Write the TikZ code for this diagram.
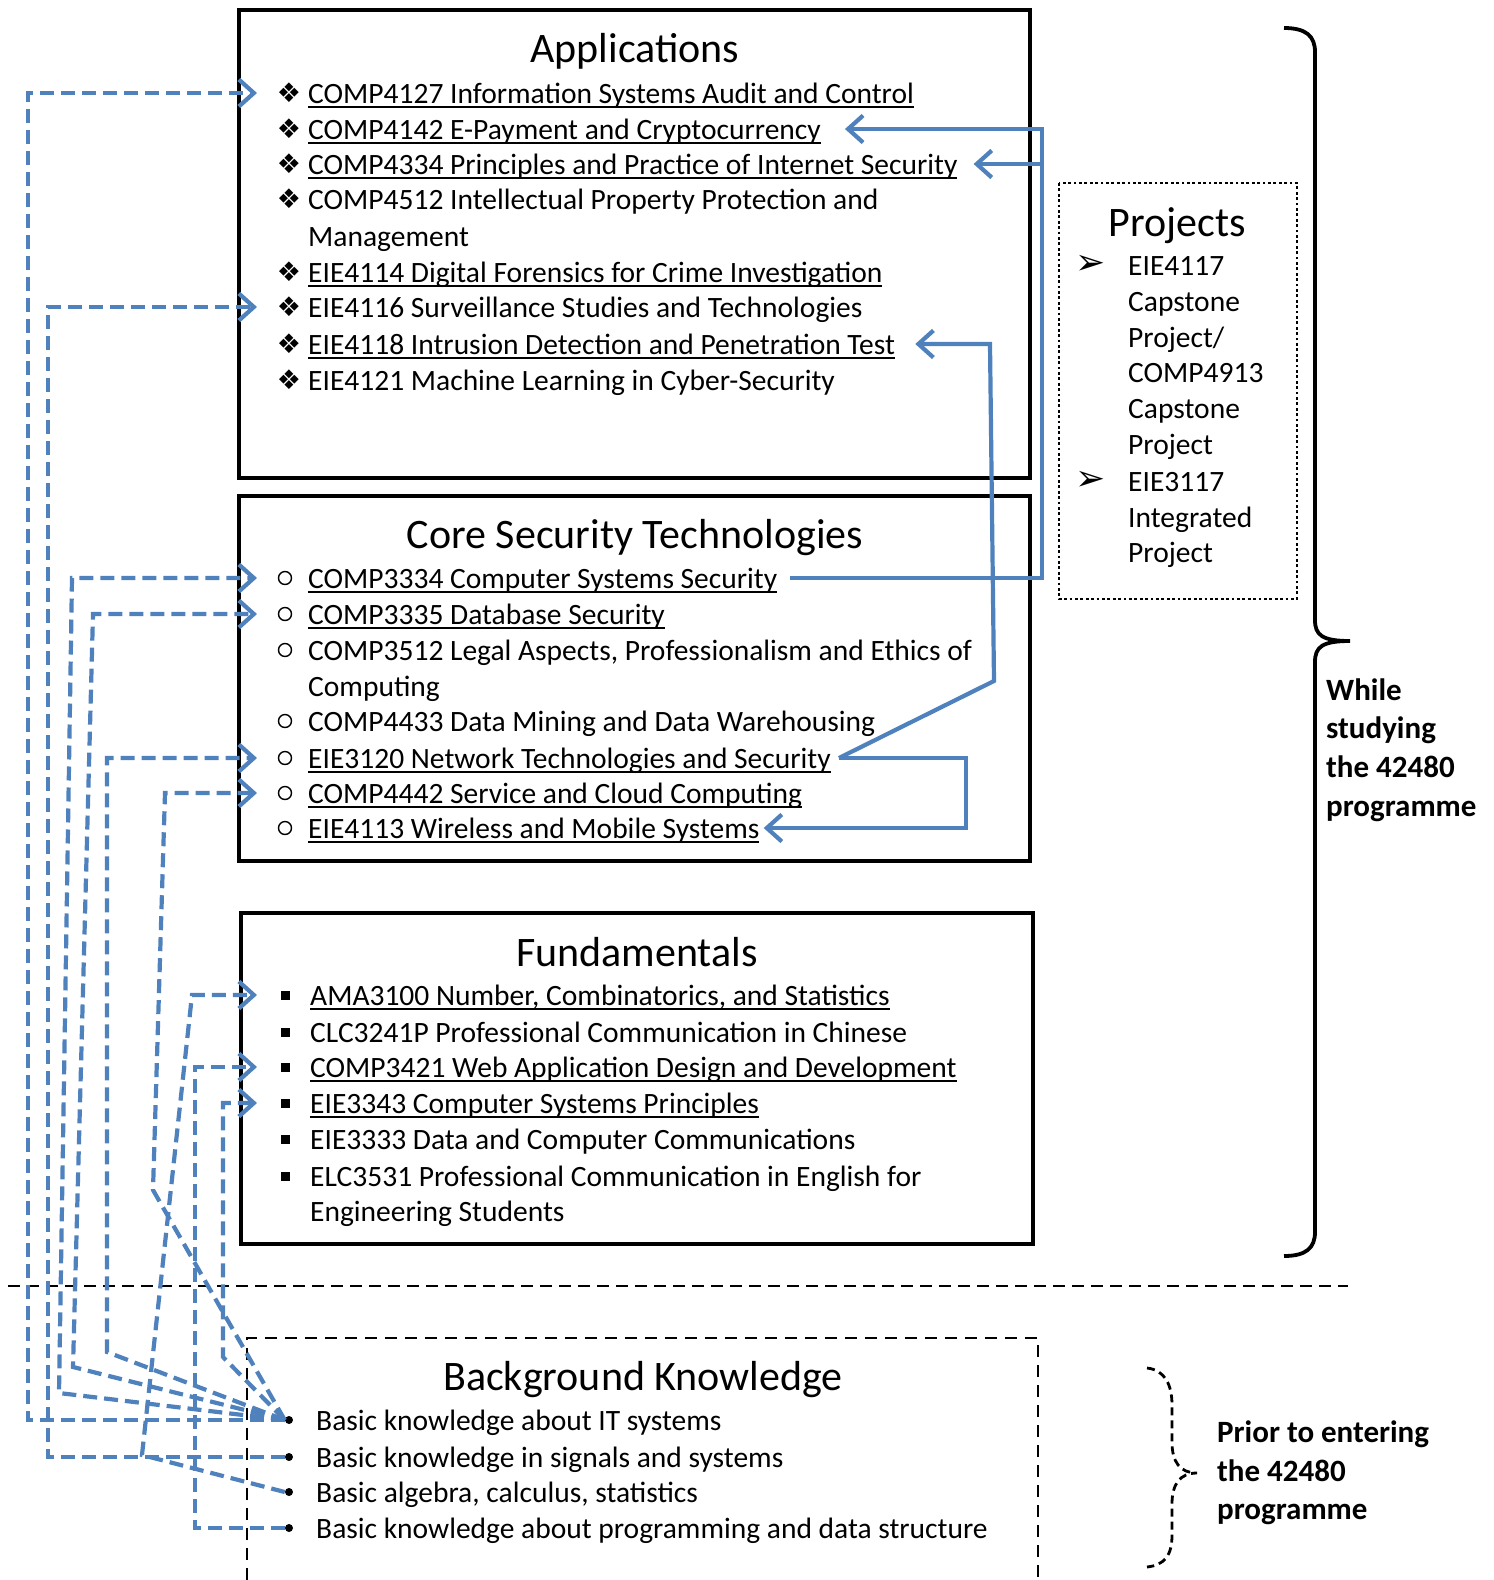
\documentclass[tikz,border=0pt]{standalone}
\usepackage{fontspec}
\setmainfont{Carlito}
\newfontfamily\symfont{DejaVu Sans}
\newcommand{\uln}[1]{\leavevmode\setbox0\hbox{#1}\rlap{\rule[-4.5pt]{\wd0}{1.8pt}}\box0}
\usetikzlibrary{arrows.meta,calc,positioning}
\definecolor{linkBlue}{RGB}{79,129,189}

\begin{document}
\begin{tikzpicture}[x=1pt,y=-1pt,
    panel/.style={draw,line width=3.2pt},
    heading/.style={font=\fontsize{42}{50}\selectfont,text height=39pt,text depth=10pt,inner sep=0pt},
    course/.style={anchor=west,inner sep=0pt,text height=22pt,text depth=2pt,font=\fontsize{29.5}{35.5}\selectfont},
    stack/.style={anchor=west,inner sep=0pt,align=left,font=\fontsize{29.5}{35.7}\selectfont},
    tag/.style={anchor=west,inner sep=0pt,align=left,font=\fontsize{31}{38.6}\selectfont\bfseries},
    clover/.style={font=\symfont\fontsize{27}{27}\selectfont,inner sep=0pt},
    pointer/.style={font=\symfont\fontsize{36}{36}\selectfont,inner sep=0pt},
    ring/.style={circle,draw,line width=1.4pt,minimum size=13pt,inner sep=0pt},
    block/.style={fill,minimum size=9pt,inner sep=0pt},
    kdot/.style={circle,fill,minimum size=8pt,inner sep=0pt},
    prereq/.style={linkBlue,line width=4.2pt,dash pattern=on 14pt off 7pt,-{Straight Barb[length=15pt,width=27pt]}},
    mapsto/.style={linkBlue,line width=4.2pt,-{Straight Barb[length=15pt,width=27pt]}}]
\useasboundingbox (0,0) rectangle (1494,1580);

% Applications
\draw[panel] (239,10) rectangle (1030,478);
\node[heading] (apptitle) at (635,48) {Applications};
\foreach \y in {93,129,164,199,272,307,344,380}
  \node[clover] at (289,\y) {❖};
\node[course] (a1) at (308,93) {\uln{COMP4127 Information Systems Audit and Control}};
\node[course] (a2) at (308,129) {\uln{COMP4142 E-Payment and Cryptocurrency}};
\node[course] (a3) at (308,164) {\uln{COMP4334 Principles and Practice of Internet Security}};
\node[course] (a4) at (308,199) {COMP4512 Intellectual Property Protection and};
\node[course] (a4x) at (308,236) {Management};
\node[course] (a5) at (308,272) {\uln{EIE4114 Digital Forensics for Crime Investigation}};
\node[course] (a6) at (308,307) {EIE4116 Surveillance Studies and Technologies};
\node[course] (a7) at (308,344) {\uln{EIE4118 Intrusion Detection and Penetration Test}};
\node[course] (a8) at (308,380) {EIE4121 Machine Learning in Cyber-Security};

% Core Security Technologies
\draw[panel] (239,496) rectangle (1030,861);
\node[heading] (coretitle) at (635,534) {Core Security Technologies};
\foreach \y in {578,614,650,721,758,793,828}
  \node[ring] at (285,\y) {};
\node[course] (c1) at (308,578) {\uln{COMP3334 Computer Systems Security}};
\node[course] (c2) at (308,614) {\uln{COMP3335 Database Security}};
\node[course] (c3) at (308,650) {COMP3512 Legal Aspects, Professionalism and Ethics of};
\node[course] (c3x) at (308,686) {Computing};
\node[course] (c4) at (308,721) {COMP4433 Data Mining and Data Warehousing};
\node[course] (c5) at (308,758) {\uln{EIE3120 Network Technologies and Security}};
\node[course] (c6) at (308,793) {\uln{COMP4442 Service and Cloud Computing}};
\node[course] (c7) at (308,828) {\uln{EIE4113 Wireless and Mobile Systems}};

% Fundamentals
\draw[panel] (241,913) rectangle (1033,1244);
\node[heading] (fundtitle) at (637,952) {Fundamentals};
\foreach \y in {995,1032,1067,1103,1139,1176}
  \node[block] at (285,\y) {};
\node[course] (f1) at (310,995) {\uln{AMA3100 Number, Combinatorics, and Statistics}};
\node[course] (f2) at (310,1032) {CLC3241P Professional Communication in Chinese};
\node[course] (f3) at (310,1067) {\uln{COMP3421 Web Application Design and Development}};
\node[course] (f4) at (310,1103) {\uln{EIE3343 Computer Systems Principles}};
\node[course] (f5) at (310,1139) {EIE3333 Data and Computer Communications};
\node[course] (f6) at (310,1176) {ELC3531 Professional Communication in English for};
\node[course] (f6x) at (310,1211) {Engineering Students};

% Projects
\draw[line width=2.8pt,dash pattern=on 2.8pt off 2.6pt] (1059,183) rectangle (1297,599);
\node[heading] (projtitle) at (1177,222) {Projects};
\node[pointer] at (1091,265) {➢};
\node[pointer] at (1091,481) {➢};
\node[stack] (p1) at (1128,358) {EIE4117\\Capstone\\Project/\\COMP4913\\Capstone\\Project};
\node[stack] (p2) at (1128,520) {EIE3117\\Integrated\\Project};

% While studying
\draw[line width=3.8pt] (1284,28) .. controls (1306,28) and (1315,36) .. (1315,52)
  -- (1315,620) .. controls (1315,635) and (1322,641) .. (1350,641)
  .. controls (1322,641) and (1315,647) .. (1315,662)
  -- (1315,1232) .. controls (1315,1248) and (1306,1256) .. (1284,1256);
\node[tag] (during) at (1326,750) {While\\studying\\the 42480\\programme};

% divider
\draw[line width=2.8pt,dash pattern=on 12pt off 7pt] (8,1286) -- (1348,1286);

% Background Knowledge
\draw[line width=2.8pt,dash pattern=on 12pt off 8pt] (247,1580) -- (247,1338) -- (1038,1338) -- (1038,1580);
\node[heading] (bgtitle) at (643,1376) {Background Knowledge};
\node[kdot] (k1) at (289,1420) {};
\node[kdot] (k2) at (289,1457) {};
\node[kdot] (k3) at (289,1492) {};
\node[kdot] (k4) at (289,1528) {};
\node[course] (b1) at (316,1420) {Basic knowledge about IT systems};
\node[course] (b2) at (316,1457) {Basic knowledge in signals and systems};
\node[course] (b3) at (316,1492) {Basic algebra, calculus, statistics};
\node[course] (b4) at (316,1528) {Basic knowledge about programming and data structure};

\draw[line width=2.8pt,dash pattern=on 8pt off 5pt] (1147,1368) .. controls (1165,1370) and (1172,1385) .. (1172,1405)
  -- (1172,1442) .. controls (1172,1462) and (1180,1473) .. (1197,1473)
  .. controls (1180,1473) and (1172,1484) .. (1172,1504)
  -- (1172,1535) .. controls (1172,1555) and (1165,1565) .. (1147,1567);
\node[tag] (prior) at (1217,1473) {Prior to entering\\the 42480\\programme};

% prerequisite links
\coordinate (tipx) at (257,0);
\draw[prereq] (k1.west) -- (28,1420) |- (tipx |- a1.west);
\draw[prereq] (k2.west) -- (48,1457) |- (tipx |- a6.west);
\draw[prereq] (k1.west) -- (59,1393) -- (72,578) -- (tipx |- c1.west);
\draw[prereq] (k1.west) -- (73,1367) -- (93,614) -- (tipx |- c2.west);
\draw[prereq] (k1.west) -- (107,1352) |- (tipx |- c5.west);
\draw[prereq] (k1.west) -- (153,1190) -- (165,793) -- (tipx |- c6.west);
\draw[prereq] (k3.west) -- (142,1455) -- (192,995) -- (tipx |- f1.west);
\draw[prereq] (k4.west) -- (195,1528) |- (tipx |- f3.west);
\draw[prereq] (k1.west) -- (223,1357) |- (tipx |- f4.west);

% follow-on links
\coordinate (busA) at (1042,0);
\coordinate (busB) at (990,0);
\coordinate (busC) at (966,0);
\draw[mapsto] ([xshift=13pt]c1.east) -- (busA |- c1.east) -- (busA |- a2.east) -- ([xshift=24pt]a2.east);
\draw[mapsto] (busA |- a3.east) -- ([xshift=16pt]a3.east);
\draw[mapsto] ([xshift=8pt]c5.east) -- (994,681) -- (busB |- a7.east) -- ([xshift=20pt]a7.east);
\draw[mapsto] ([xshift=8pt]c5.east) -- (busC |- c5.east) |- ([xshift=4pt]c7.east);
\end{tikzpicture}
\end{document}
